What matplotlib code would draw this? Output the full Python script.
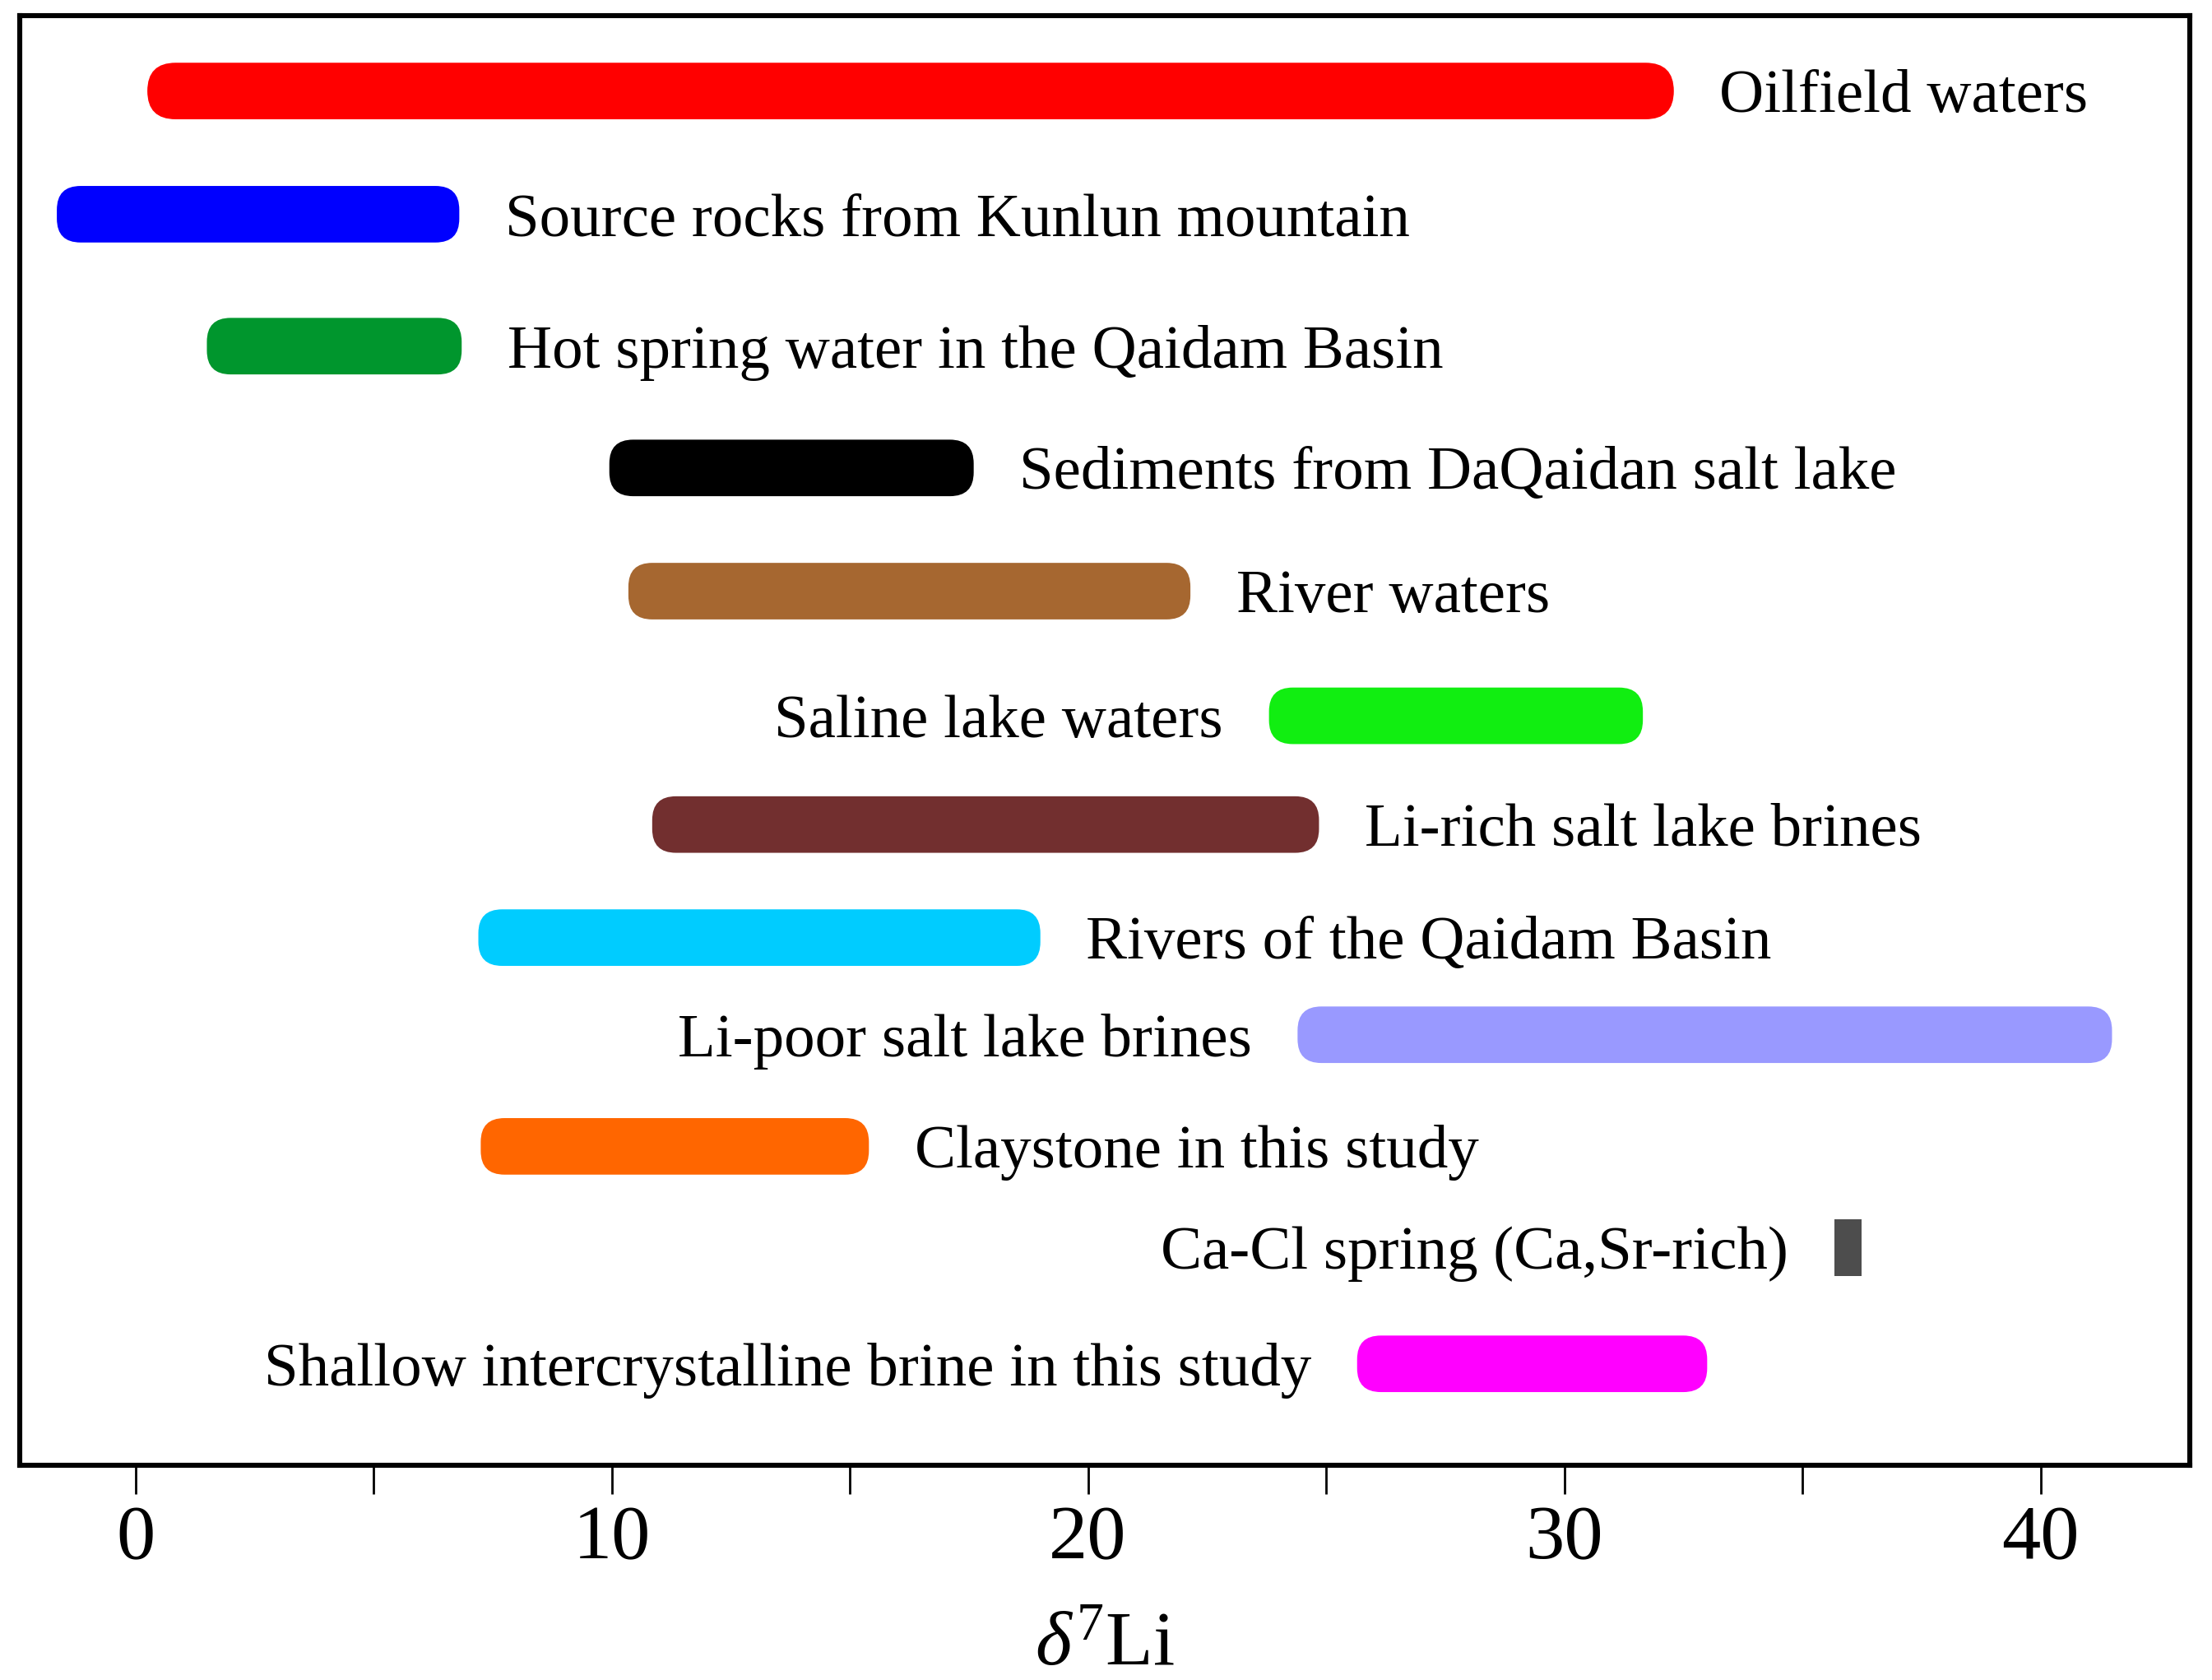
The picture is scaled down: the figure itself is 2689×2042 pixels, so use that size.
import matplotlib
matplotlib.use("Agg")
from matplotlib import pyplot as plt
from matplotlib.patches import FancyBboxPatch
from matplotlib.ticker import MultipleLocator

plt.rcParams['font.family'] = ['Liberation Serif', 'DejaVu Serif']
plt.rcParams['mathtext.fontset'] = 'custom'
plt.rcParams['mathtext.rm'] = 'Liberation Serif'
plt.rcParams['mathtext.it'] = 'Liberation Serif:italic'

# delta7Li ranges
groups = [
    "Oilfield waters",
    "Source rocks from Kunlun mountain",
    "Hot spring water in the Qaidam Basin",
    "Sediments from DaQaidan salt lake",
    "River waters",
    "Saline lake waters",
    "Li-rich salt lake brines",
    "Rivers of the Qaidam Basin",
    "Li-poor salt lake brines",
    "Claystone in this study",
    "Ca-Cl spring (Ca,Sr-rich)",
    "Shallow intercrystalline brine in this study",
]
li_min = [0.25, -1.65, 1.5, 9.95, 10.35, 23.8, 10.85, 7.2, 24.4, 7.25, 35.67, 25.65]
li_max = [32.3, 6.8, 6.85, 17.6, 22.15, 31.65, 24.85, 19.0, 41.5, 15.4, 36.24, 33.0]
# vertical level of each row (percent of plot height, from the top)
row_level = [5.2, 13.7, 22.8, 31.2, 39.7, 48.3, 55.8, 63.6, 70.3, 78.0, 85.0, 93.0]

colors = ['#ff0000', '#0000ff', '#00962d', '#000000', '#a66730', '#11ee11',
          '#722f2f', '#00ccff', '#9999ff', '#ff6600', '#4d4d4d', '#ff00ff']
label_side = ['right', 'right', 'right', 'right', 'right', 'left',
              'right', 'right', 'left', 'right', 'left', 'left']
corner = [0.5, 0.42, 0.42, 0.42, 0.42, 0.42, 0.42, 0.42, 0.42, 0.42, 0.0, 0.42]

bar_h = 3.9

fig = plt.figure(figsize=(13.445, 10.21), dpi=200)
ax = fig.add_axes([0.0089, 0.1278, 0.9810, 0.8629])
ax.set_xlim(-2.43, 43.13)
ax.set_ylim(100, 0)

# pixels per data unit, to keep rounded corners circular
fig.canvas.draw()
p0 = ax.transData.transform((0, 0))
p1 = ax.transData.transform((1, 1))
px_x = abs(p1[0] - p0[0])
px_y = abs(p1[1] - p0[1])
aspect = px_x / px_y

for name, lo, hi, yc, c, side, cr in zip(groups, li_min, li_max, row_level,
                                         colors, label_side, corner):
    r = cr * bar_h * px_y / px_x
    if cr > 0:
        style = f"round,pad=0,rounding_size={r}"
    else:
        style = "square,pad=0"
    patch = FancyBboxPatch((lo, yc - bar_h / 2), hi - lo, bar_h,
                           boxstyle=style, mutation_aspect=aspect,
                           facecolor=c, edgecolor='none')
    ax.add_patch(patch)
    if side == 'right':
        ax.annotate(name, (hi, yc), xytext=(20, 0), textcoords='offset points',
                    ha='left', va='center_baseline', fontsize=27)
    else:
        ax.annotate(name, (lo, yc), xytext=(-20, 0), textcoords='offset points',
                    ha='right', va='center_baseline', fontsize=27)

ax.xaxis.set_major_locator(MultipleLocator(10))
ax.xaxis.set_minor_locator(MultipleLocator(5))
ax.tick_params(axis='x', which='both', direction='out', length=12.5, width=1.0,
               labelsize=34, pad=5)
ax.tick_params(axis='y', left=False, labelleft=False)
for s in ax.spines.values():
    s.set_linewidth(2.2)

ax.set_xlabel(r'$\delta^{7}$Li', fontsize=34, labelpad=16)

fig.savefig("out.png", dpi=200)
